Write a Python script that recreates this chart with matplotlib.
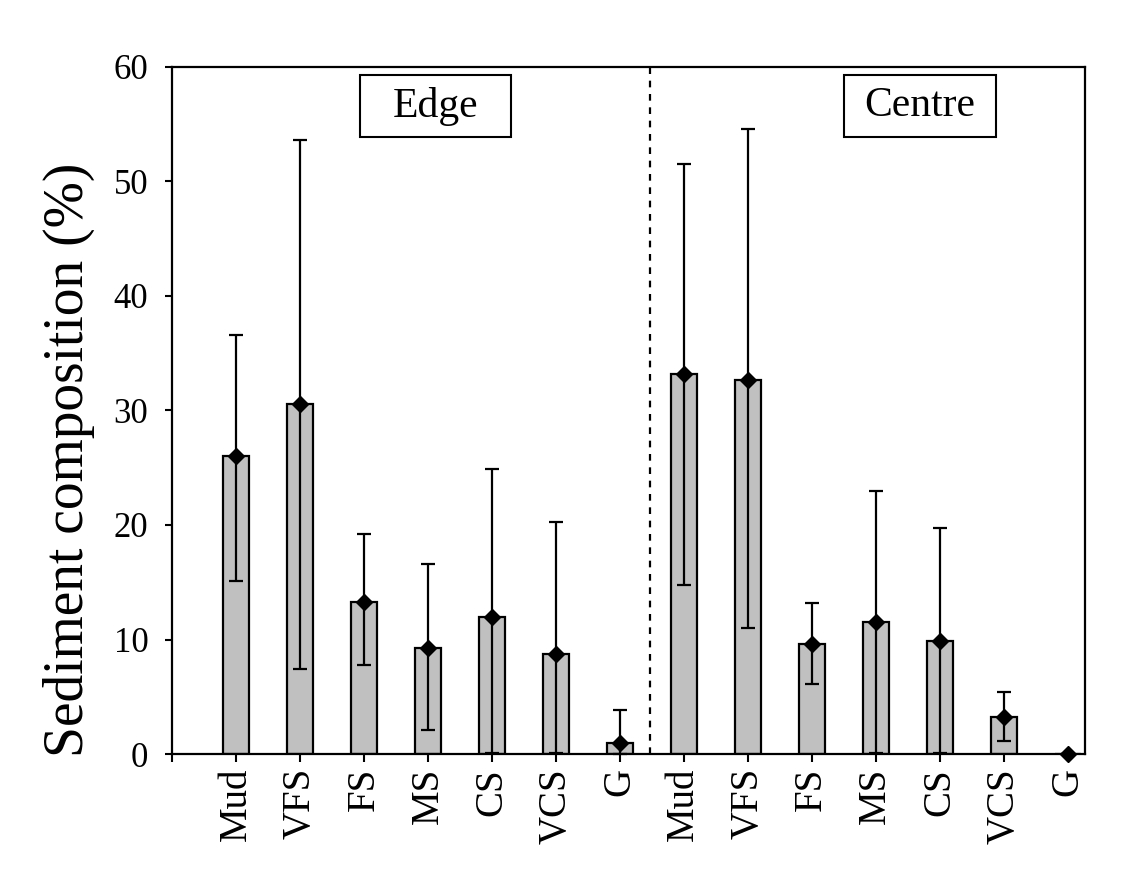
import numpy as np
import matplotlib
matplotlib.use("Agg")
import matplotlib.pyplot as plt
from matplotlib.patches import Rectangle
import matplotlib.transforms as mtransforms

# sediment classes (same for both sites)
classes = ["Mud", "VFS", "FS", "MS", "CS", "VCS", "G"]

# edge: mean, upper and lower whisker end (%)
edge_mean = [26.0, 30.6, 13.3, 9.3, 12.0, 8.7, 1.0]
edge_hi = [36.6, 53.6, 19.2, 16.6, 24.9, 20.3, 3.8]
edge_lo = [15.1, 7.4, 7.8, 2.1, 0.1, 0.1, 0.0]

# centre
centre_mean = [33.2, 32.7, 9.6, 11.5, 9.9, 3.2, 0.0]
centre_hi = [51.5, 54.6, 13.2, 23.0, 19.7, 5.4, 0.0]
centre_lo = [14.8, 11.0, 6.1, 0.1, 0.1, 1.1, 0.0]

plt.rcParams['font.family'] = ['Liberation Serif', 'DejaVu Serif']

fig = plt.figure(figsize=(11.34, 8.73), dpi=100)
ax = fig.add_axes([0.1517, 0.1363, 0.9568 - 0.1517, 0.9233 - 0.1363])

means = np.array(edge_mean + centre_mean)
hi = np.array(edge_hi + centre_hi)
lo = np.array(edge_lo + centre_lo)
x = np.arange(1, len(means) + 1)

ax.bar(x, means, width=0.4, color="#c0c0c0", edgecolor="black", linewidth=1.6, zorder=2)
yerr = np.vstack([means - lo, hi - means])
ax.errorbar(x, means, yerr=yerr, fmt="D", color="black", markersize=8.5,
            elinewidth=1.6, capsize=5, capthick=1.6, zorder=3, clip_on=False)

# separator between sites
ax.axvline(7.47, color="black", linestyle=(0, (3, 3)), linewidth=1.6)

ax.set_xlim(0, 14.27)
ax.set_ylim(0, 60)
ax.set_yticks(np.arange(0, 61, 10))
ax.set_xticks(np.arange(0, 15))
ax.set_xticklabels([""] + classes + classes, rotation=90, fontsize=28)
ax.tick_params(axis="y", labelsize=25, direction="out", length=5, width=1.5, pad=12)
ax.tick_params(axis="x", direction="out", length=6, width=1.5, pad=4)
for s in ax.spines.values():
    s.set_linewidth(1.6)

ax.set_ylabel("Sediment composition (%)", fontsize=40)
ax.yaxis.set_label_coords(-0.084, 0.428)

# site labels in boxes
trans = mtransforms.blended_transform_factory(ax.transData, ax.transAxes)
for x0, x1, lab in [(2.94, 5.30, "Edge"), (10.5, 12.875, "Centre")]:
    ax.add_patch(Rectangle((x0, 0.898), x1 - x0, 0.09, transform=trans,
                           facecolor="white", edgecolor="black", linewidth=1.5, zorder=4))
    ax.text((x0 + x1) / 2, 0.943, lab, transform=trans, ha="center", va="center",
            fontsize=30, zorder=5)

fig.savefig("out.png", dpi=100)
